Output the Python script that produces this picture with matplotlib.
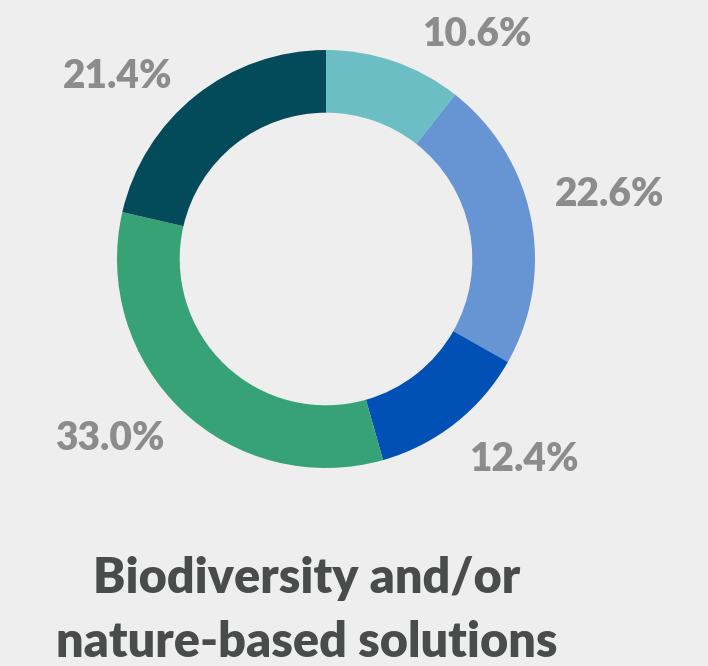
import matplotlib.pyplot as plt

# share of projects per category, clockwise from 12 o'clock
shares = [10.6, 22.6, 12.4, 33.0, 21.4]
labels = ['10.6%', '22.6%', '12.4%', '33.0%', '21.4%']
colors = ['#6bbec3', '#6795d4', '#0050b5', '#37a275', '#034a5a']
title_lines = ['Biodiversity and/or', 'nature-based solutions']

# where the percentage labels sit (in units of the outer radius)
label_pos = [(0.722, 1.072), (1.359, 0.311), (0.947, -0.957),
             (-1.033, -0.861), (-0.995, 0.871)]

bg = '#eeeeee'
fig = plt.figure(figsize=(7.08, 6.66), dpi=100, facecolor=bg)
ax = fig.add_axes([0, 0, 1, 1])
ax.set_facecolor(bg)

ax.pie(shares, colors=colors, startangle=90, counterclock=False,
       radius=1, wedgeprops=dict(width=0.30, linewidth=0))

for (x, y), txt in zip(label_pos, labels):
    ax.text(x, y, txt, ha='center', va='center', fontsize=28,
            fontweight='heavy', color='#8c8c8c', family='Lato')

# pixel scale: centre at (326, 259), outer radius 209 px
scale = 209
ax.set_xlim(-326 / scale, (708 - 326) / scale)
ax.set_ylim(-(666 - 259) / scale, 259 / scale)
ax.set_aspect('equal')
ax.axis('off')

for i, line in enumerate(title_lines):
    fig.text(307 / 708, 1 - (593 + 64 * i) / 666, line, ha='center',
             va='baseline', fontsize=35, fontweight='heavy',
             color='#4a4c4c', family='Lato')

plt.savefig('out.png', facecolor=bg)
